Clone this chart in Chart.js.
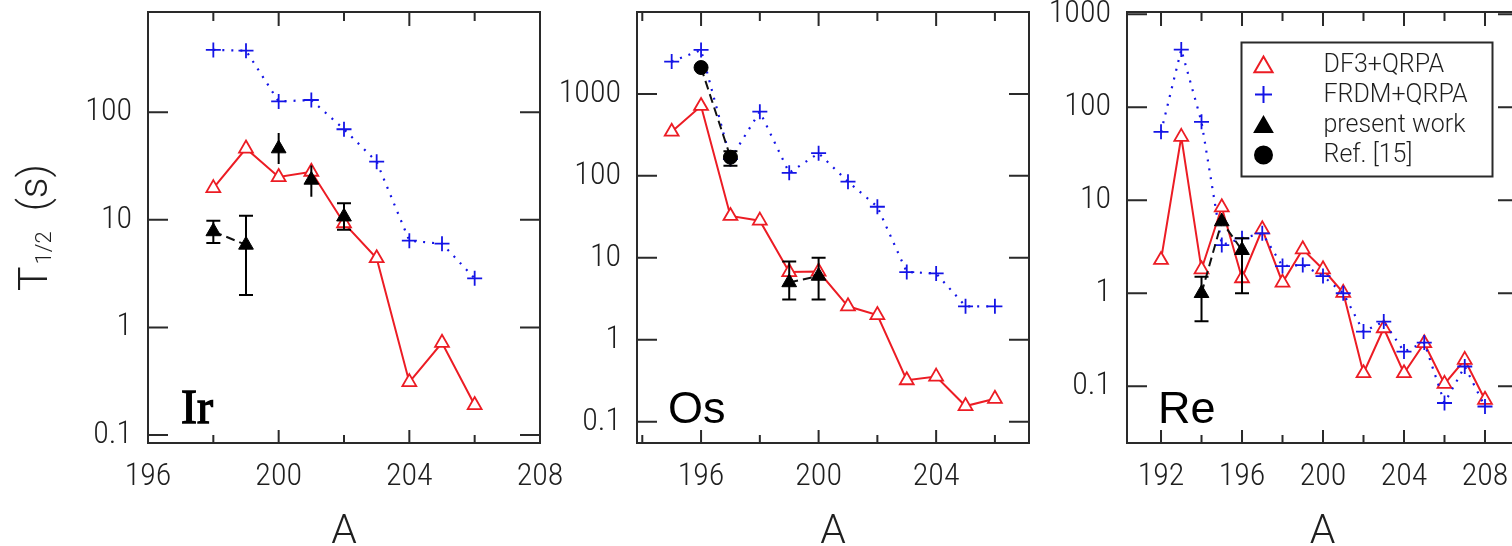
<!DOCTYPE html>
<html>
<head>
<meta charset="utf-8">
<script src="https://cdn.jsdelivr.net/npm/chart.js@4.4.1/dist/chart.umd.min.js"></script>
<style>
  html, body { margin: 0; padding: 0; background: #fff; width: 1512px; height: 546px; overflow: hidden; position: relative; }
  canvas { position: absolute; top: 0; }
</style>
</head>
<body>
<canvas id="cIr" width="580" height="546" style="left:0px"></canvas>
<canvas id="cOs" width="500" height="546" style="left:548px"></canvas>
<canvas id="cRe" width="500" height="546" style="left:1040px"></canvas>
<script>
// ---------- Ir isotopes: half-lives T1/2 in seconds ----------
const irA      = [198, 199, 200, 201, 202, 203, 204, 205, 206];
const irDF3    = [19.7, 46, 25, 28, 9.3, 4.4, 0.31, 0.72, 0.19];
const irFRDM   = [380, 374, 126, 130, 69.5, 34.7, 6.4, 6.0, 2.86];
const irExpA   = [198, 199, 200, 201, 202];
const irExp    = [7.8, 5.85, 46, 23.5, 10.7];
const irExpLo  = [6.1, 2.0, 33, 16.4, 8.1];
const irExpHi  = [9.8, 10.9, 64, 32, 14.3];

// ---------- Os isotopes ----------
const osA      = [195, 196, 197, 198, 199, 200, 201, 202, 203, 204, 205, 206];
const osDF3    = [346, 713, 32.4, 28.4, 6.7, 6.8, 2.56, 2.0, 0.32, 0.355, 0.155, 0.19];
const osFRDM   = [2480, 3440, 160, 608, 109, 189, 85, 42, 6.7, 6.45, 2.56, 2.56];
const osExpA   = [199, 200];
const osExp    = [5.0, 6.0];
const osExpLo  = [3.1, 3.1];
const osExpHi  = [9.0, 10.0];
const osRefA   = [196, 197];
const osRef    = [2100, 169];
const osRefLo  = [null, 133];
const osRefHi  = [null, 200];

// ---------- Re isotopes ----------
const reA      = [192, 193, 194, 195, 196, 197, 198, 199, 200, 201, 202, 203, 204, 205, 206, 207, 208];
const reDF3    = [2.28, 48, 1.81, 8.4, 1.45, 4.87, 1.3, 2.97, 1.81, 1.01, 0.138, 0.42, 0.138, 0.29, 0.106, 0.192, 0.0714];
const reFRDM   = [54.4, 418, 69.7, 3.3, 3.9, 4.41, 1.96, 2.01, 1.53, 1.0, 0.387, 0.496, 0.236, 0.295, 0.066, 0.163, 0.0605];
const reExpA   = [194, 195, 196];
const reExp    = [1.0, 5.9, 2.9];
const reExpLo  = [0.5, null, 1.0];
const reExpHi  = [1.5, null, 3.9];

// ---------- axis ticks ----------
const irXTicks = [196, 200, 204, 208];
const irXMinor = [198, 202, 206];
const irYTicks = [0.1, 1, 10, 100];
const osXTicks = [196, 200, 204];
const osXMinor = [194, 198, 202, 206];
const osYTicks = [0.1, 1, 10, 100, 1000];
const reXTicks = [192, 196, 200, 204, 208];
const reXMinor = [194, 198, 202, 206];
const reYTicks = [0.1, 1, 10, 100, 1000];

// ---------- series names ----------
const nameDF3  = 'DF3+QRPA';
const nameFRDM = 'FRDM+QRPA';
const nameExp  = 'present work';
const nameRef  = 'Ref. [15]';

const RED = '#ec1c24', BLUE = '#1414e6', INK = '#1f1f1f', AXIS = '#2a2a2a';
const TICK_FONT = "'Roboto Condensed', 'Liberation Sans Narrow', 'DejaVu Sans Condensed', sans-serif";
const TEXT_FONT = "'Liberation Sans', Arial, sans-serif";
const TITLE_FONT = "Roboto, 'Liberation Sans', sans-serif";

const pts = (xs, ys) => xs.map((x, i) => ({ x, y: ys[i] }));

// plot frame edges of each panel, in canvas pixels
const panels = {
  cIr: { el: 'Ir', serif: true, frame: { l: 148, r: 540, t: 12, b: 443 }, xr: [196, 208], yr: [0.0843, 855],
         xTicks: irXTicks, xMinor: irXMinor, yTicks: irYTicks, capless: [200, 201], yTitle: true },
  cOs: { el: 'Os', frame: { l: 89, r: 481, t: 12, b: 443 }, xr: [193.82, 207.16], yr: [0.0549, 10000],
         xTicks: osXTicks, xMinor: osXMinor, yTicks: osYTicks, capless: [] },
  cRe: { el: 'Re', frame: { l: 87, r: 478, t: 12, b: 443 }, xr: [190.32, 209.63], yr: [0.0245, 1059],
         xTicks: reXTicks, xMinor: reXMinor, yTicks: reYTicks, capless: [], legend: true }
};

const decor = {
  id: 'decor',
  beforeDatasetsDraw(chart) {
    const p = panels[chart.canvas.id];
    const { ctx, chartArea: a } = chart;
    const x = chart.scales.x, y = chart.scales.y;
    ctx.save();
    ctx.strokeStyle = AXIS;
    ctx.lineWidth = 2;
    ctx.beginPath();
    p.xTicks.forEach(v => {
      const px = x.getPixelForValue(v);
      ctx.moveTo(px, a.bottom); ctx.lineTo(px, a.bottom - 13);
      ctx.moveTo(px, a.top); ctx.lineTo(px, a.top + 14);
    });
    p.xMinor.forEach(v => {
      const px = x.getPixelForValue(v);
      ctx.moveTo(px, a.bottom); ctx.lineTo(px, a.bottom - 8);
      ctx.moveTo(px, a.top); ctx.lineTo(px, a.top + 9);
    });
    p.yTicks.forEach(v => {
      const py = y.getPixelForValue(v);
      ctx.moveTo(a.left, py); ctx.lineTo(a.left + 20, py);
      ctx.moveTo(a.right, py); ctx.lineTo(a.right - 20, py);
    });
    ctx.stroke();
    ctx.strokeRect(a.left, a.top, a.right - a.left, a.bottom - a.top);
    ctx.restore();
  },
  afterDatasetsDraw(chart) {
    const p = panels[chart.canvas.id];
    const { ctx, chartArea: a } = chart;
    const y = chart.scales.y;
    ctx.save();

    // error bars
    ctx.strokeStyle = '#000';
    ctx.lineWidth = 2;
    ctx.beginPath();
    chart.data.datasets.forEach((ds, di) => {
      if (!ds.errLo) return;
      const meta = chart.getDatasetMeta(di);
      meta.data.forEach((el, i) => {
        const lo = ds.errLo[i], hi = ds.errHi[i];
        if (lo == null || hi == null) return;
        const yl = y.getPixelForValue(lo), yh = y.getPixelForValue(hi);
        ctx.moveTo(el.x, yl); ctx.lineTo(el.x, yh);
        if (!p.capless.includes(ds.data[i].x)) {
          ctx.moveTo(el.x - 7, yl); ctx.lineTo(el.x + 7, yl);
          ctx.moveTo(el.x - 7, yh); ctx.lineTo(el.x + 7, yh);
        }
      });
    });
    ctx.stroke();

    // element symbol in the lower-left corner
    ctx.fillStyle = '#000';
    ctx.textBaseline = 'alphabetic';
    ctx.textAlign = 'left';
    if (p.serif) {
      ctx.font = "48px 'Liberation Serif', 'Times New Roman', serif";
      ctx.strokeStyle = '#000';
      ctx.lineWidth = 1.4;
      ctx.fillText(p.el, a.left + 33, a.bottom - 20);
      ctx.strokeText(p.el, a.left + 33, a.bottom - 20);
    } else {
      ctx.font = '45px ' + TEXT_FONT;
      ctx.fillText(p.el, a.left + 31, a.bottom - 20);
    }

    // x-axis title
    ctx.fillStyle = INK;
    ctx.font = '300 41px ' + TITLE_FONT;
    ctx.textAlign = 'center';
    ctx.fillText('A', (a.left + a.right) / 2, 543);

    // y-axis title with subscript
    if (p.yTitle) {
      ctx.save();
      ctx.translate(47, (a.top + a.bottom) / 2);
      ctx.rotate(-Math.PI / 2);
      ctx.textAlign = 'left';
      const big = '300 41px ' + TITLE_FONT, small = '300 22px ' + TITLE_FONT;
      ctx.font = big; const wT = ctx.measureText('T').width;
      ctx.font = small; const wSub = ctx.measureText('1/2').width;
      ctx.font = big; const wS = ctx.measureText('  (s)').width;
      let cx = -(wT + 2 + wSub + wS) / 2;
      ctx.font = big; ctx.fillText('T', cx, 0); cx += wT + 2;
      ctx.font = small; ctx.fillText('1/2', cx, 4); cx += wSub;
      ctx.font = big; ctx.fillText('  (s)', cx, 0);
      ctx.restore();
    }

    // legend box
    if (p.legend) {
      const bx = 1241.5 - 1040, by = 42.5, bw = 251, bh = 134;
      ctx.fillStyle = '#fff';
      ctx.fillRect(bx, by, bw, bh);
      ctx.strokeStyle = AXIS;
      ctx.lineWidth = 2;
      ctx.strokeRect(bx, by, bw, bh);
      const rows = [65, 94.5, 125, 155];
      let r = 0;
      chart.data.datasets.forEach(ds => {
        if (!ds.legendR) return;
        const yy = rows[r++];
        ctx.save();
        ctx.strokeStyle = ds.pointBorderColor;
        ctx.fillStyle = ds.pointBackgroundColor;
        Chart.helpers.drawPoint(ctx, { pointStyle: ds.pointStyle, radius: ds.legendR, rotation: 0, borderWidth: ds.pointBorderWidth }, bx + 22, yy + (ds.pointStyle === 'triangle' ? 2 : 0));
        ctx.restore();
        ctx.fillStyle = INK;
        ctx.font = '300 25px ' + TITLE_FONT;
        ctx.textAlign = 'left';
        ctx.textBaseline = 'middle';
        ctx.fillText(ds.label, bx + 82, yy + 1);
      });
    }
    ctx.restore();
  }
};

function makeDatasets(cfg) {
  const list = [];
  list.push({
    label: nameExp, data: pts(cfg.expA, cfg.exp), errLo: cfg.expLo, errHi: cfg.expHi,
    showLine: false, pointStyle: 'triangle', pointRadius: 8.5, pointBorderWidth: 1,
    pointBackgroundColor: '#000', pointBorderColor: '#000', order: 0, legendR: 10
  });
  list.push({
    label: nameRef, data: cfg.refA ? pts(cfg.refA, cfg.ref) : [], errLo: cfg.refLo, errHi: cfg.refHi,
    showLine: false, pointStyle: 'circle', pointRadius: 7, pointBorderWidth: 1,
    pointBackgroundColor: '#000', pointBorderColor: '#000', order: 1, legendR: 8.5
  });
  // dashed links between neighbouring measured points
  cfg.links.forEach(seg => {
    list.push({
      label: 'link', data: seg, showLine: true, pointRadius: 0, borderColor: '#111',
      borderWidth: 2, borderDash: [9, 5], order: 2
    });
  });
  list.push({
    label: nameFRDM, data: pts(cfg.A, cfg.frdm), showLine: true, borderColor: BLUE, borderWidth: 2.2,
    borderDash: [2, 7], pointStyle: 'cross', pointRadius: 7.5, pointBorderWidth: 1.8,
    pointBorderColor: BLUE, pointBackgroundColor: BLUE, order: 3, legendR: 8.5
  });
  list.push({
    label: nameDF3, data: pts(cfg.A, cfg.df3), showLine: true, borderColor: RED, borderWidth: 2,
    pointStyle: 'triangle', pointRadius: 8, pointBorderWidth: 1.8,
    pointBorderColor: RED, pointBackgroundColor: '#fff', order: 4, legendR: 10.5
  });
  // legend lists DF3, FRDM, present work, Ref. [15] in that order
  const byName = n => list.find(d => d.label === n);
  const legendOrder = [byName(nameDF3), byName(nameFRDM), byName(nameExp), byName(nameRef)];
  return legendOrder.concat(list.filter(d => d.label === 'link'));
}

function buildPanel(id, cfg) {
  const p = panels[id];
  const canvas = document.getElementById(id);
  const W = canvas.width, H = canvas.height;
  return new Chart(canvas, {
    type: 'line',
    data: { datasets: makeDatasets(cfg) },
    options: {
      responsive: false,
      animation: false,
      devicePixelRatio: 1,
      events: [],
      layout: { autoPadding: false, padding: { left: 0, top: p.frame.t, right: W - p.frame.r, bottom: 0 } },
      plugins: { legend: { display: false }, tooltip: { enabled: false }, title: { display: false } },
      elements: { line: { tension: 0 } },
      scales: {
        x: {
          type: 'linear', min: p.xr[0], max: p.xr[1],
          grid: { display: false, drawTicks: false }, border: { display: false },
          afterBuildTicks: s => { s.ticks = p.xTicks.map(v => ({ value: v })); },
          afterFit: s => { s.height = H - p.frame.b; s.paddingLeft = 0; s.paddingRight = 0; },
          ticks: { color: INK, padding: 15, maxRotation: 0, autoSkip: false,
                   font: { family: TICK_FONT, size: 32, weight: 300 }, callback: v => String(v) }
        },
        y: {
          type: 'logarithmic', min: p.yr[0], max: p.yr[1],
          grid: { display: false, drawTicks: false }, border: { display: false },
          afterBuildTicks: s => { s.ticks = p.yTicks.map(v => ({ value: v })); },
          afterFit: s => { s.width = p.frame.l; s.paddingTop = 0; s.paddingBottom = 0; },
          ticks: { color: INK, padding: 16, autoSkip: false,
                   font: { family: TICK_FONT, size: 32, weight: 300 }, callback: v => String(v) }
        }
      }
    },
    plugins: [decor]
  });
}

buildPanel('cIr', {
  A: irA, df3: irDF3, frdm: irFRDM, expA: irExpA, exp: irExp, expLo: irExpLo, expHi: irExpHi,
  links: [pts(irExpA.slice(0, 2), irExp.slice(0, 2))]
});
buildPanel('cOs', {
  A: osA, df3: osDF3, frdm: osFRDM, expA: osExpA, exp: osExp, expLo: osExpLo, expHi: osExpHi,
  refA: osRefA, ref: osRef, refLo: osRefLo, refHi: osRefHi,
  links: [pts(osRefA, osRef), pts(osExpA, osExp)]
});
buildPanel('cRe', {
  A: reA, df3: reDF3, frdm: reFRDM, expA: reExpA, exp: reExp, expLo: reExpLo, expHi: reExpHi,
  links: [pts(reExpA, reExp)]
});
</script>
</body>
</html>
